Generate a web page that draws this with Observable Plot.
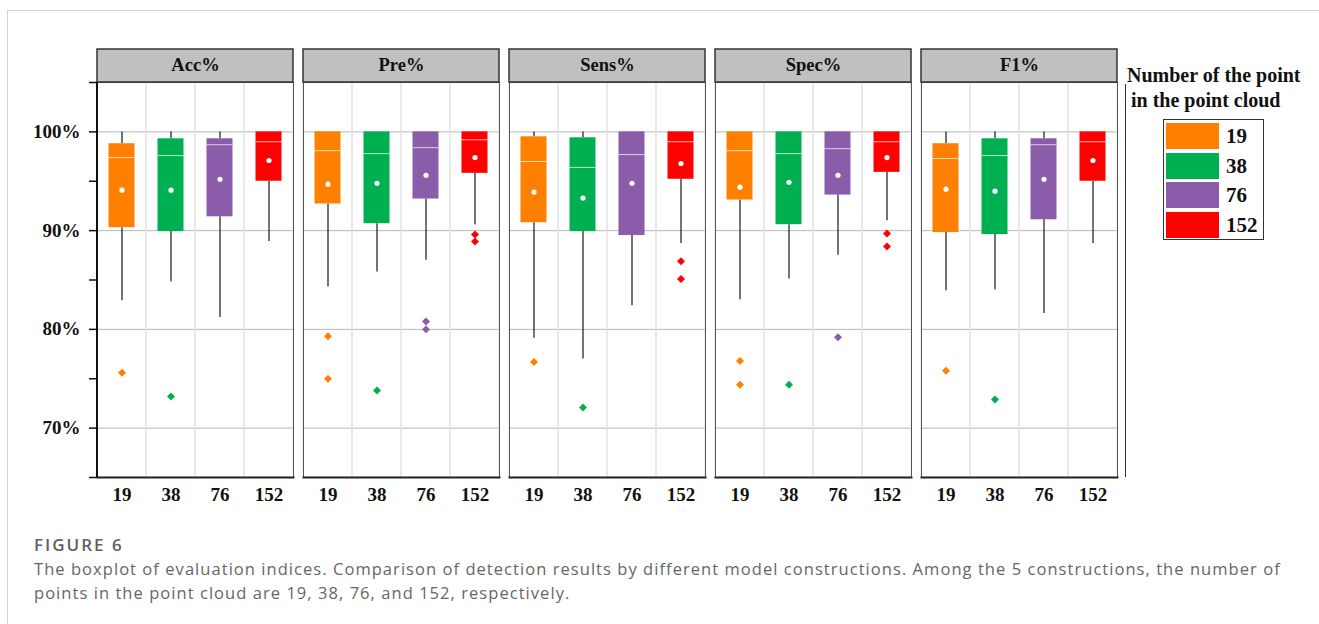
<!DOCTYPE html>
<html>
<head>
<meta charset="utf-8">
<script src="https://cdn.jsdelivr.net/npm/d3@7"></script>
<script src="https://cdn.jsdelivr.net/npm/@observablehq/plot@0.6"></script>
<style>
  html, body { margin: 0; padding: 0; background: #fff; overflow: hidden; width: 1319px; height: 624px; }
  #frame { position: absolute; left: 7px; top: 10px; width: 1312px; height: 614px; border-left: 1px solid #d6d6d6; border-top: 1px solid #d6d6d6; }
  #chart { position: absolute; left: 0; top: 0; }
  #legend-line { position: absolute; left: 1125px; top: 84px; width: 1px; height: 393px; background: #333; }
  .ltitle { position: absolute; font-family: "Liberation Serif", serif; font-weight: bold; font-size: 20px; color: #111; white-space: nowrap; line-height: 1; }
  #legend-box { position: absolute; left: 1163px; top: 119px; width: 99px; height: 119px; border: 1px solid #333; }
  .sw { position: absolute; left: 2px; width: 53px; height: 26px; }
  .sl { position: absolute; left: 62px; font-family: "Liberation Serif", serif; font-weight: bold; font-size: 21px; color: #111; line-height: 26px; }
  #caption { position: absolute; left: 34px; top: 533px; font-family: "Open Sans", sans-serif; color: #666; white-space: nowrap; }
  #caption .fig { font-size: 17px; font-weight: 600; letter-spacing: 2px; line-height: 24px; color: #606060; }
  #caption .txt { font-size: 16.5px; letter-spacing: 1.05px; line-height: 24px; }
</style>
</head>
<body>
<div id="frame"></div>
<div id="chart"></div>
<div id="legend-line"></div>
<div class="ltitle" style="left:1127px; top:65px;">Number of the point</div>
<div class="ltitle" style="left:1131px; top:90px;">in the point cloud</div>
<div id="legend-box"></div>
<div id="caption">
  <div class="fig">FIGURE 6</div>
  <div class="txt">The boxplot of evaluation indices. Comparison of detection results by different model constructions. Among the 5 constructions, the number of<br>points in the point cloud are 19, 38, 76, and 152, respectively.</div>
</div>
<script>
// ---- Data ----
const metrics = ["Acc%", "Pre%", "Sens%", "Spec%", "F1%"];
const categories = ["19", "38", "76", "152"];
const palette = ["#ff8000", "#00b050", "#8b5ca9", "#ff0000"];

// values ordered metric-major: Acc(19,38,76,152), Pre(...), Sens(...), Spec(...), F1(...)
const whiskerHigh = [100, 100, 100, 100,  100, 100, 100, 100,  100, 100, 100, 100,  100, 100, 100, 100,  100, 100, 100, 100];
const q3 =          [98.8, 99.3, 99.3, 100,  100, 100, 100, 100,  99.5, 99.4, 100, 100,  100, 100, 100, 100,  98.8, 99.3, 99.3, 100];
const median =      [97.4, 97.6, 98.7, 99.0,  98.1, 97.8, 98.4, 99.2,  97.0, 96.4, 97.7, 99.0,  98.1, 97.8, 98.3, 99.0,  97.3, 97.6, 98.7, 99.0];
const mean =        [94.1, 94.1, 95.2, 97.1,  94.7, 94.8, 95.6, 97.4,  93.9, 93.3, 94.8, 96.8,  94.4, 94.9, 95.6, 97.4,  94.2, 94.0, 95.2, 97.1];
const q1 =          [90.3, 89.9, 91.4, 95.0,  92.7, 90.7, 93.2, 95.8,  90.8, 89.9, 89.5, 95.2,  93.1, 90.6, 93.6, 95.9,  89.8, 89.6, 91.1, 95.0];
const whiskerLow =  [82.9, 84.8, 81.2, 88.9,  84.3, 85.8, 87.0, 90.6,  79.1, 77.0, 82.4, 88.7,  83.0, 85.1, 87.5, 91.0,  83.9, 84.0, 81.6, 88.7];

const outlierMetric = ["Acc%", "Acc%", "Pre%", "Pre%", "Pre%", "Pre%", "Pre%", "Pre%", "Pre%", "Sens%", "Sens%", "Sens%", "Sens%", "Spec%", "Spec%", "Spec%", "Spec%", "Spec%", "Spec%", "F1%", "F1%"];
const outlierCat =    ["19", "38", "19", "19", "38", "76", "76", "152", "152", "19", "38", "152", "152", "19", "19", "38", "76", "152", "152", "19", "38"];
const outlierValue =  [75.6, 73.2, 79.3, 75.0, 73.8, 80.8, 80.0, 89.6, 88.9, 76.7, 72.1, 86.9, 85.1, 76.8, 74.4, 74.4, 79.2, 89.7, 88.4, 75.8, 72.9];

const yDomain = [65, 105];
const yTicks = [65, 70, 75, 80, 85, 90, 95, 100, 105];
const gridTicks = [70, 80, 90, 100];

// ---- Build tables ----
const stats = [];
metrics.forEach((m, mi) => categories.forEach((c, ci) => {
  const k = mi * categories.length + ci;
  stats.push({metric: m, cat: c, low: whiskerLow[k], q1: q1[k], median: median[k], q3: q3[k], high: whiskerHigh[k], mean: mean[k]});
}));
const outliers = outlierValue.map((v, i) => ({metric: outlierMetric[i], cat: outlierCat[i], value: v}));

const boxInset = 11.5;

const plot = Plot.plot({
  width: 1319,
  height: 524,
  marginLeft: 96,
  marginRight: 201,
  marginTop: 82,
  marginBottom: 47,
  style: {fontFamily: "'Liberation Serif', serif", background: "transparent", overflow: "visible"},
  fx: {domain: metrics, paddingInner: 0.0485, paddingOuter: 0, axis: null, label: null},
  x: {domain: categories, padding: 0, label: null},
  y: {domain: yDomain, label: null},
  color: {domain: categories, range: palette},
  marks: [
    Plot.ruleY(gridTicks, {stroke: "#b8b8b8", strokeWidth: 1}),
    Plot.barY(categories, {x: d => d, y1: yDomain[0], y2: yDomain[1], fill: "none", stroke: "#e2e2e2", strokeWidth: 1}),
    Plot.frame({stroke: "#555", strokeWidth: 1}),
    Plot.frame({anchor: "bottom", stroke: "#222", strokeWidth: 2}),
    Plot.rect(metrics, {fx: d => d, y1: yDomain[1], y2: yDomain[1], insetTop: -33, fill: "#c0c0c0", stroke: "#333", strokeWidth: 1.5}),
    Plot.text(metrics, {fx: d => d, text: d => d, frameAnchor: "top", lineAnchor: "middle", dy: -17, fontSize: 18.5, fontWeight: "bold", fill: "#111"}),
    Plot.ruleX(stats, {fx: "metric", x: "cat", y1: "low", y2: "q1", stroke: "#000", strokeWidth: 1.1}),
    Plot.ruleX(stats, {fx: "metric", x: "cat", y1: "q3", y2: "high", stroke: "#000", strokeWidth: 1.1}),
    Plot.barY(stats, {fx: "metric", x: "cat", y1: "q1", y2: "q3", fill: "cat", insetLeft: boxInset, insetRight: boxInset}),
    Plot.tickY(stats, {fx: "metric", x: "cat", y: "median", stroke: "#fff", strokeOpacity: 0.7, strokeWidth: 1, insetLeft: boxInset, insetRight: boxInset}),
    Plot.dot(stats, {fx: "metric", x: "cat", y: "mean", r: 2.6, fill: "#fff", stroke: null}),
    Plot.dot(outliers, {fx: "metric", x: "cat", y: "value", symbol: "diamond2", r: 3.6, fill: "cat", stroke: null}),
    Plot.axisX({tickSize: 0, tickPadding: 10, fontSize: 19, fontWeight: "bold", color: "#111", label: null}),
    Plot.axisY({ticks: yTicks, tickSize: 8, tickPadding: 9, tickFormat: d => d % 10 === 0 ? d + "%" : "", fontSize: 19, fontWeight: "bold", color: "#111", strokeWidth: 1.5, label: null})
  ]
});
document.getElementById("chart").appendChild(plot);

// y-axis line along the left edge of the first panel, placed with the plot's own scales
const ys = plot.scale("y"), fxs = plot.scale("fx");
const x0 = fxs.apply(metrics[0]);
d3.select(plot).append("line")
  .attr("x1", x0).attr("x2", x0)
  .attr("y1", ys.apply(yDomain[0])).attr("y2", ys.apply(yDomain[1]))
  .attr("stroke", "#111").attr("stroke-width", 2);

// legend
const box = document.getElementById("legend-box");
const swTops = [3, 33, 62, 92];
categories.forEach((c, i) => {
  const sw = document.createElement("div");
  sw.className = "sw";
  sw.style.top = swTops[i] + "px";
  sw.style.background = palette[i];
  box.appendChild(sw);
  const lb = document.createElement("div");
  lb.className = "sl";
  lb.style.top = swTops[i] + "px";
  lb.textContent = c;
  box.appendChild(lb);
});
</script>
</body>
</html>
